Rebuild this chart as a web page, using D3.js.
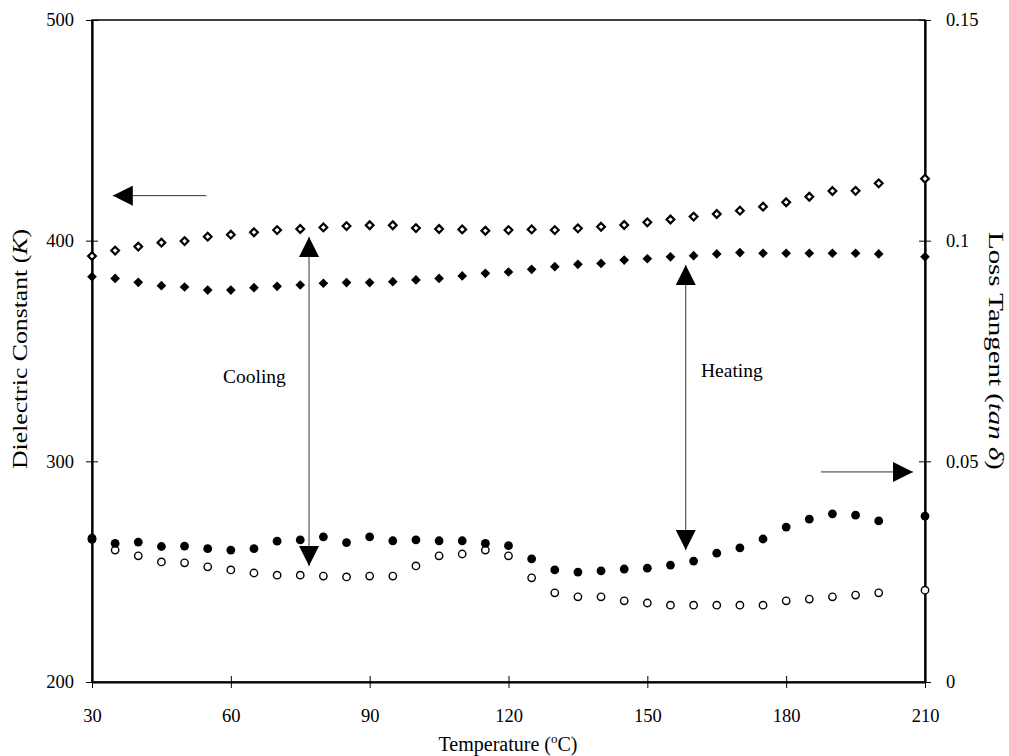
<!DOCTYPE html>
<html>
<head>
<meta charset="utf-8">
<script src="https://cdn.jsdelivr.net/npm/d3@7"></script>
<style>
  body { margin: 0; background: #fff; }
  text { font-family: "Liberation Serif", "DejaVu Serif", serif; fill: #000; }
</style>
</head>
<body>
<svg id="chart"></svg>
<script>
const width = 1009,
  height = 756;
const margin = { top: 20, right: 84, bottom: 74, left: 92 };

// temperatures (°C)
const temps = [30, 35, 40, 45, 50, 55, 60, 65, 70, 75, 80, 85, 90, 95, 100, 105, 110, 115,
  120, 125, 130, 135, 140, 145, 150, 155, 160, 165, 170, 175, 180, 185, 190, 195, 200, 210];

// dielectric constant K (left axis)
const kOpen = [393.0, 395.5, 397.3, 399.1, 399.8, 401.8, 402.7, 403.8, 404.8, 405.3, 406.0, 406.6,
  407.0, 407.0, 405.7, 405.3, 405.1, 404.5, 404.8, 405.1, 404.8, 405.6, 406.3, 407.1, 408.3, 409.6,
  410.9, 412.1, 413.6, 415.4, 417.4, 419.9, 422.5, 422.6, 426.0, 428.1];
const kFilled = [383.7, 382.9, 381.1, 379.6, 379.0, 377.6, 377.6, 378.7, 379.3, 379.9, 380.7, 381.0,
  381.0, 381.4, 382.2, 382.9, 384.0, 385.2, 385.8, 387.0, 388.2, 389.3, 389.7, 391.2, 391.8, 392.7,
  393.2, 394.0, 394.6, 394.3, 394.3, 394.3, 394.3, 394.3, 394.0, 392.7];

// loss tangent (right axis)
const tanFilled = [0.0323, 0.0314, 0.0317, 0.0307, 0.0308, 0.0302, 0.0299, 0.0302, 0.0319, 0.0322,
  0.0329, 0.0316, 0.0329, 0.0320, 0.0322, 0.0320, 0.0320, 0.0314, 0.0309, 0.0279, 0.0254, 0.0249,
  0.0252, 0.0256, 0.0258, 0.0265, 0.0274, 0.0292, 0.0304, 0.0324, 0.0351, 0.0369, 0.0381, 0.0378,
  0.0365, 0.0376];
const tanOpen = [0.0326, 0.0299, 0.0286, 0.0272, 0.0270, 0.0261, 0.0254, 0.0247, 0.0242, 0.0242,
  0.0240, 0.0238, 0.0240, 0.0240, 0.0263, 0.0286, 0.0290, 0.0299, 0.0286, 0.0236, 0.0202, 0.0193,
  0.0193, 0.0184, 0.0179, 0.0174, 0.0174, 0.0174, 0.0174, 0.0174, 0.0184, 0.0188, 0.0193, 0.0197,
  0.0202, 0.0208];

const xTicks = [30, 60, 90, 120, 150, 180, 210];
const kTicks = [200, 300, 400, 500];
const tanTicks = [0, 0.05, 0.1, 0.15];

const svg = d3.select("#chart").attr("width", width).attr("height", height);

const x = d3.scaleLinear().domain([30, 210]).range([margin.left, width - margin.right]);
const yK = d3.scaleLinear().domain([200, 500]).range([height - margin.bottom, margin.top]);
const yT = d3.scaleLinear().domain([0, 0.15]).range([height - margin.bottom, margin.top]);

// frame
svg.append("rect")
  .attr("x", margin.left).attr("y", margin.top)
  .attr("width", width - margin.left - margin.right)
  .attr("height", height - margin.top - margin.bottom)
  .attr("fill", "none").attr("stroke", "#000").attr("stroke-width", 1.5);

function styleAxis(g) {
  g.select(".domain").attr("stroke-width", 2.2);
  g.selectAll(".tick line").attr("stroke-width", 1);
  g.selectAll(".tick text")
    .style("font-family", "Liberation Serif, serif")
    .style("font-size", "18.5px");
}

// x axis (cross ticks)
svg.append("g")
  .attr("transform", `translate(0,${height - margin.bottom})`)
  .call(d3.axisBottom(x).tickValues(xTicks).tickSizeInner(6).tickSizeOuter(0).tickPadding(21))
  .call(styleAxis)
  .call((g) => g.selectAll(".tick line").attr("y1", -6));

// left axis
svg.append("g")
  .attr("transform", `translate(${margin.left},0)`)
  .call(d3.axisLeft(yK).tickValues(kTicks).tickSizeInner(6).tickSizeOuter(0).tickPadding(12))
  .call(styleAxis)
  .call((g) => g.selectAll(".tick line").attr("x1", 6));

// right axis
svg.append("g")
  .attr("transform", `translate(${width - margin.right},0)`)
  .call(d3.axisRight(yT).tickValues(tanTicks).tickSizeInner(6).tickSizeOuter(0).tickPadding(15)
    .tickFormat((d) => (d === 0 ? "0" : String(d))))
  .call(styleAxis)
  .call((g) => g.selectAll(".tick line").attr("x1", -6));

// axis titles
const xt = svg.append("text")
  .attr("x", 508)
  .attr("y", 751)
  .attr("text-anchor", "middle")
  .style("font-size", "20px");
xt.append("tspan").text("Temperature (");
xt.append("tspan").text("o").style("font-size", "13px").attr("dy", -8);
xt.append("tspan").text("C)").attr("dy", 8);

const yl = svg.append("text")
  .attr("transform", `translate(27,349) rotate(-90)`)
  .attr("text-anchor", "middle")
  .attr("textLength", 240)
  .attr("lengthAdjust", "spacingAndGlyphs")
  .style("font-size", "20px");
yl.append("tspan").text("Dielectric Constant (");
yl.append("tspan").text("K").style("font-style", "italic");
yl.append("tspan").text(")");

const yr = svg.append("text")
  .attr("transform", `translate(989,351) rotate(90)`)
  .attr("text-anchor", "middle")
  .attr("textLength", 238)
  .attr("lengthAdjust", "spacingAndGlyphs")
  .style("font-size", "20px");
yr.append("tspan").text("Loss Tangent (");
yr.append("tspan").text("tan δ").style("font-style", "italic");
yr.append("tspan").text(")");

// annotations: arrows
svg.append("defs").append("marker")
  .attr("id", "head")
  .attr("viewBox", "0 0 20 20")
  .attr("refX", 20).attr("refY", 10)
  .attr("markerWidth", 20).attr("markerHeight", 20)
  .attr("markerUnits", "userSpaceOnUse")
  .attr("orient", "auto-start-reverse")
  .append("path")
  .attr("d", "M0,0L20,10L0,20Z")
  .attr("fill", "#000");

const arrows = [
  { x1: x(54.7), y1: yK(420.4), x2: x(34.5), y2: yK(420.4), both: false },
  { x1: x(187.5), y1: yT(0.0476), x2: x(207.4), y2: yT(0.0476), both: false },
  { x1: x(76.9), y1: yK(252.6), x2: x(76.9), y2: yK(401.7), both: true },
  { x1: x(158.3), y1: yK(259.8), x2: x(158.3), y2: yK(389.0), both: true },
];
svg.selectAll(".arrow")
  .data(arrows)
  .enter()
  .append("line")
  .attr("class", "arrow")
  .attr("x1", (d) => d.x1).attr("y1", (d) => d.y1)
  .attr("x2", (d) => d.x2).attr("y2", (d) => d.y2)
  .attr("stroke", "#333").attr("stroke-width", 1)
  .attr("marker-end", "url(#head)")
  .attr("marker-start", (d) => (d.both ? "url(#head)" : null));

svg.append("text").attr("x", x(58.3)).attr("y", yK(335.5)).style("font-size", "19.5px").text("Cooling");
svg.append("text").attr("x", x(161.6)).attr("y", yK(338.2)).style("font-size", "19.5px").text("Heating");

// markers
const diamond = d3.symbol().type(d3.symbolDiamond2);

svg.append("g").selectAll("path")
  .data(temps.map((t, i) => [t, kFilled[i]]))
  .enter().append("path")
  .attr("transform", (d) => `translate(${x(d[0])},${yK(d[1])})`)
  .attr("d", diamond.size(60))
  .attr("fill", "#000");

svg.append("g").selectAll("path")
  .data(temps.map((t, i) => [t, kOpen[i]]))
  .enter().append("path")
  .attr("transform", (d) => `translate(${x(d[0])},${yK(d[1])})`)
  .attr("d", diamond.size(38))
  .attr("fill", "#fff").attr("stroke", "#000").attr("stroke-width", 2.2);

svg.append("g").selectAll("circle")
  .data(temps.map((t, i) => [t, tanOpen[i]]))
  .enter().append("circle")
  .attr("cx", (d) => x(d[0])).attr("cy", (d) => yT(d[1]))
  .attr("r", 3.7)
  .attr("fill", "#fff").attr("stroke", "#000").attr("stroke-width", 1.4);

svg.append("g").selectAll("circle")
  .data(temps.map((t, i) => [t, tanFilled[i]]))
  .enter().append("circle")
  .attr("cx", (d) => x(d[0])).attr("cy", (d) => yT(d[1]))
  .attr("r", 4.4)
  .attr("fill", "#000");
</script>
</body>
</html>
